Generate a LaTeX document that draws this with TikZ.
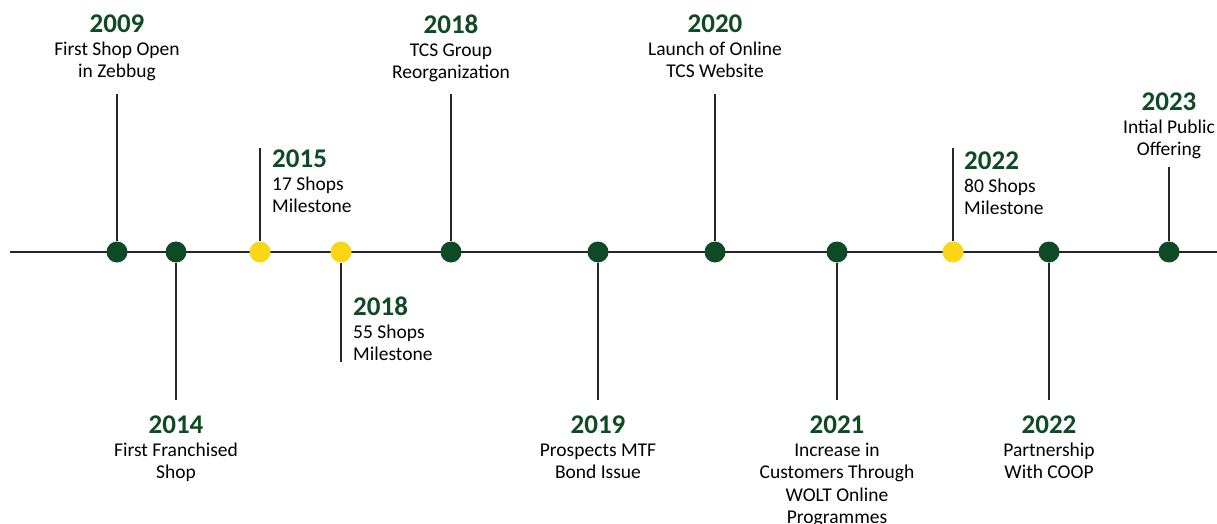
\documentclass[tikz,border=0pt]{standalone}
\usepackage{fontspec}
\setmainfont{Carlito}
\definecolor{tlgreen}{RGB}{14,74,36}
\definecolor{tlyellow}{RGB}{250,214,22}
\newcommand{\yr}[1]{{\fontsize{27}{22.5}\selectfont\bfseries\color{tlgreen}#1}}

\begin{document}
\begin{tikzpicture}[x=1pt, y=-1pt, font=\fontsize{19.5}{22.5}\selectfont,
  dot/.style={circle, fill=tlgreen, minimum size=21pt, inner sep=0pt},
  ydot/.style={dot, fill=tlyellow},
  lab/.style={align=center, anchor=north, inner sep=0pt},
  rlab/.style={align=left, anchor=north west, inner sep=0pt},
  stem/.style={line width=1.5pt, black!85}]

\useasboundingbox (0,0) rectangle (1217,524);

\coordinate (start) at (10,252);
\coordinate (end) at (1217,252);
\draw[line width=1.5pt, black!85] (start)--(end);

\node[dot] (d1) at (117,252) {};
\node[dot] (d2) at (176,252) {};
\node[ydot] (d3) at (260,252) {};
\node[ydot] (d4) at (341,252) {};
\node[dot] (d5) at (451,252) {};
\node[dot] (d6) at (598,252) {};
\node[dot] (d7) at (715,252) {};
\node[dot] (d8) at (837,252) {};
\node[ydot] (d9) at (953,252) {};
\node[dot] (d10) at (1049,252) {};
\node[dot] (d11) at (1169,252) {};

\coordinate (s1) at (117,94);
\coordinate (s2) at (176,400);
\coordinate (s3) at (260,148);
\coordinate (s4) at (341,362);
\coordinate (s5) at (451,94);
\coordinate (s6) at (598,400);
\coordinate (s7) at (715,94);
\coordinate (s8) at (837,400);
\coordinate (s9) at (953,148);
\coordinate (s10) at (1049,400);
\coordinate (s11) at (1169,167);

\foreach \i in {1,...,11}
  \draw[stem] (d\i)--(s\i);

% labels above the line
\node[lab] (l1) at (117,15) {\yr{2009}\\First Shop Open\\in Zebbug};
\node[rlab] (l3) at (272,150) {\yr{2015}\\17 Shops\\Milestone};
\node[lab] (l5) at (451,15) {\yr{2018}\\TCS Group\\Reorganization};
\node[lab] (l7) at (715,15) {\yr{2020}\\Launch of Online\\TCS Website};
\node[rlab] (l9) at (964,152) {\yr{2022}\\80 Shops\\Milestone};
\node[lab] (l11) at (1169,93) {\yr{2023}\\Intial Public\\Offering};

% labels below the line
\node[lab] (l2) at (176,416) {\yr{2014}\\First Franchised\\Shop};
\node[rlab] (l4) at (353,297) {\yr{2018}\\55 Shops\\Milestone};
\node[lab] (l6) at (598,416) {\yr{2019}\\Prospects MTF\\Bond Issue};
\node[lab] (l8) at (837,416) {\yr{2021}\\Increase in\\Customers Through\\WOLT Online\\Programmes};
\node[lab] (l10) at (1049,416) {\yr{2022}\\Partnership\\With COOP};
\end{tikzpicture}
\end{document}
